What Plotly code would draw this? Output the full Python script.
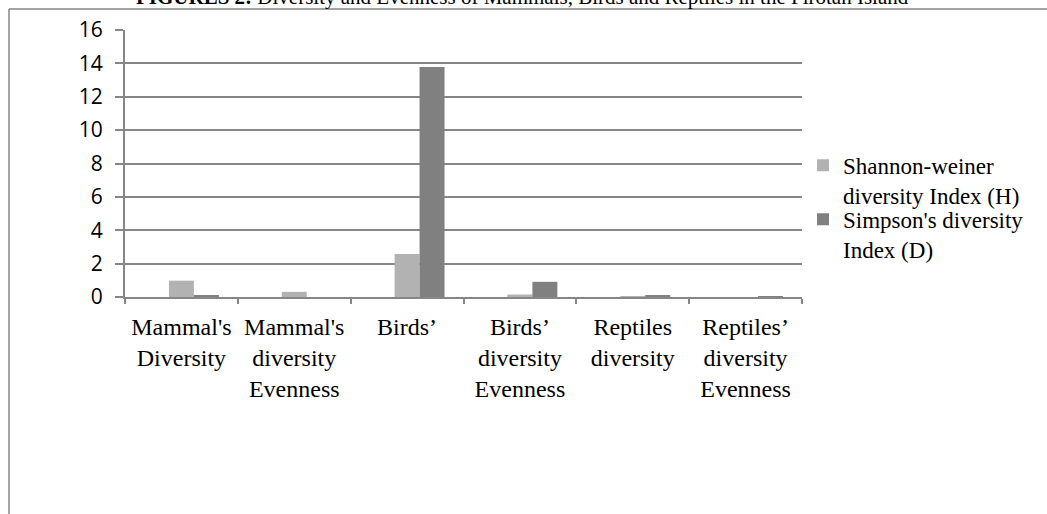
import plotly.graph_objects as go

categories = ["Mammal's<br>Diversity", "Mammal's<br>diversity<br>Evenness", "Birds’",
              "Birds’<br>diversity<br>Evenness", "Reptiles<br>diversity",
              "Reptiles’<br>diversity<br>Evenness"]
shannon = [0.98, 0.31, 2.58, 0.15, 0.02, 0.0]
simpson = [0.09, 0.0, 13.78, 0.91, 0.11, 0.06]
series_names = ["Shannon-weiner<br>diversity Index (H)", "Simpson's diversity<br>Index (D)"]
y_ticks = [0, 2, 4, 6, 8, 10, 12, 14, 16]
title_text = "<b>FIGURES 2:</b> Diversity and Evenness of Mammals, Birds and Reptiles in the Pirotan Island"

W, H = 1047, 514
L, R, T, B = 125, 802, 30, 297.5
pw, ph = R - L, B - T

def px(x):
    return (x - L) / pw

def py(y):
    return (B - y) / ph

bw = 25 / 113

fig = go.Figure()
fig.add_trace(go.Bar(x=categories, y=shannon, name=series_names[0],
                     marker=dict(color="#b2b2b2", line=dict(width=0)),
                     width=bw, offset=-bw / 2, legend="legend"))
fig.add_trace(go.Bar(x=categories, y=simpson, name=series_names[1],
                     marker=dict(color="#808080", line=dict(width=0)),
                     width=bw, offset=bw / 2, legend="legend2"))

axis_col = "#868686"
leg_font = dict(family="Liberation Serif", size=23, color="black")
fig.update_layout(
    width=W, height=H,
    margin=dict(l=L, r=W - R, t=T, b=H - B, pad=0, autoexpand=False),
    paper_bgcolor="white", plot_bgcolor="white",
    barmode="overlay",
    showlegend=True,
    legend=dict(x=px(803), y=py(144), xanchor="left", yanchor="top",
                valign="top", font=leg_font, bgcolor="rgba(0,0,0,0)"),
    legend2=dict(x=px(803), y=py(198), xanchor="left", yanchor="top",
                 valign="top", font=leg_font, bgcolor="rgba(0,0,0,0)"),
    xaxis=dict(type="category", showline=True, linecolor=axis_col, linewidth=2,
               ticks="outside", tickson="boundaries", ticklen=5, tickcolor=axis_col,
               tickwidth=1.5, showgrid=False,
               tickfont=dict(family="Liberation Serif", size=24, color="black"),
               ticklabelstandoff=7),
    yaxis=dict(range=[0, 16], tickvals=y_ticks, showline=True, linecolor=axis_col,
               linewidth=2, ticks="outside", ticklen=8, tickcolor=axis_col, tickwidth=1.5,
               showgrid=True, gridcolor=axis_col, gridwidth=1.5, zeroline=False,
               tickfont=dict(family="Open Sans", size=21, color="black"),
               ticklabelstandoff=8),
    annotations=[dict(text=title_text, xref="paper", yref="paper", x=px(522), y=py(11),
                      xanchor="center", yanchor="bottom", showarrow=False,
                      font=dict(family="Liberation Serif", size=21, color="black"))],
    shapes=[
        dict(type="line", xref="paper", yref="paper", x0=px(9), x1=px(W + 5),
             y0=py(9), y1=py(9), line=dict(color=axis_col, width=1.5)),
        dict(type="line", xref="paper", yref="paper", x0=px(9), x1=px(9),
             y0=py(9), y1=py(H + 5), line=dict(color=axis_col, width=1.5)),
    ],
)

fig.write_html("out.html")
